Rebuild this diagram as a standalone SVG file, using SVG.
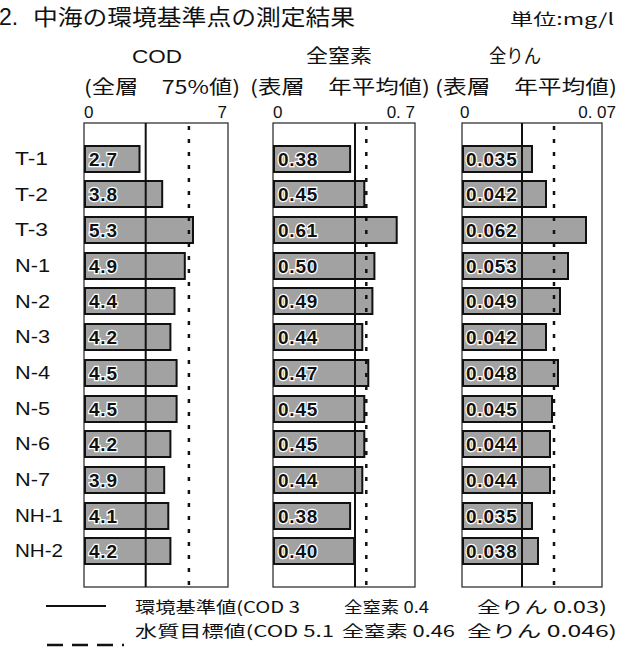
<svg xmlns="http://www.w3.org/2000/svg" width="632" height="648" viewBox="0 0 632 648">
<style>
.jp{font-family:"Noto Sans CJK JP","Liberation Sans",sans-serif;fill:#111}
.lat{font-family:"Liberation Sans","Noto Sans CJK JP",sans-serif;fill:#111}
.frame{fill:none;stroke:#333;stroke-width:1.3}
.bar{fill:#a2a2a2;stroke:#111;stroke-width:2}
.std{stroke:#111;stroke-width:2;fill:none}
.tgt{stroke:#111;stroke-width:2.5;stroke-dasharray:4 9;fill:none}
.val{font-family:"Liberation Sans",sans-serif;font-weight:bold;font-size:19px;letter-spacing:0.8px;fill:#111;stroke:#fff;stroke-width:2.5;paint-order:stroke}
.row{font-family:"Liberation Sans",sans-serif;font-size:18px;fill:#111}
.tick{font-family:"Liberation Sans",sans-serif;font-size:17px;fill:#111}
.leg{font-family:"Noto Sans CJK JP","Liberation Sans",sans-serif;font-size:16px;fill:#111}
</style>
<rect width="632" height="648" fill="#fff"/>
<g id="title">
<text class="lat" x="-1" y="25" font-size="23">2.</text>
<text class="jp" x="33" y="25" font-size="22" textLength="322" lengthAdjust="spacingAndGlyphs">中海の環境基準点の測定結果</text>
<text class="jp" x="510" y="25" font-size="16" textLength="104" lengthAdjust="spacingAndGlyphs">単位:mg/l</text>
</g>
<g id="headers">
<text class="lat" x="157" y="63" font-size="19" text-anchor="middle" textLength="50" lengthAdjust="spacingAndGlyphs">COD</text>
<text class="jp" x="339" y="63" font-size="19" text-anchor="middle" textLength="66" lengthAdjust="spacingAndGlyphs">全窒素</text>
<text class="jp" x="515" y="63" font-size="19" text-anchor="middle" textLength="52" lengthAdjust="spacingAndGlyphs">全りん</text>
<text class="jp" x="84" y="94" font-size="19" textLength="156" lengthAdjust="spacingAndGlyphs">(全層　75%値)</text>
<text class="jp" x="250" y="94" font-size="19" textLength="180" lengthAdjust="spacingAndGlyphs">(表層　年平均値)</text>
<text class="jp" x="435" y="94" font-size="19" textLength="182" lengthAdjust="spacingAndGlyphs">(表層　年平均値)</text>
<text class="tick" x="84" y="118">0</text>
<text class="tick" x="227" y="118" text-anchor="end">7</text>
<text class="tick" x="273" y="118">0</text>
<text class="tick" x="415" y="118" text-anchor="end">0. 7</text>
<text class="tick" x="460" y="118">0</text>
<text class="tick" x="616" y="118" text-anchor="end">0. 07</text>
</g>
<g id="rows">
<text class="row" x="15" y="165" textLength="33" lengthAdjust="spacingAndGlyphs">T-1</text>
<text class="row" x="15" y="201" textLength="33" lengthAdjust="spacingAndGlyphs">T-2</text>
<text class="row" x="15" y="236" textLength="33" lengthAdjust="spacingAndGlyphs">T-3</text>
<text class="row" x="15" y="272" textLength="35" lengthAdjust="spacingAndGlyphs">N-1</text>
<text class="row" x="15" y="308" textLength="35" lengthAdjust="spacingAndGlyphs">N-2</text>
<text class="row" x="15" y="343" textLength="35" lengthAdjust="spacingAndGlyphs">N-3</text>
<text class="row" x="15" y="379" textLength="35" lengthAdjust="spacingAndGlyphs">N-4</text>
<text class="row" x="15" y="415" textLength="35" lengthAdjust="spacingAndGlyphs">N-5</text>
<text class="row" x="15" y="450" textLength="35" lengthAdjust="spacingAndGlyphs">N-6</text>
<text class="row" x="15" y="486" textLength="35" lengthAdjust="spacingAndGlyphs">N-7</text>
<text class="row" x="15" y="522" textLength="48" lengthAdjust="spacingAndGlyphs">NH-1</text>
<text class="row" x="15" y="557" textLength="48" lengthAdjust="spacingAndGlyphs">NH-2</text>
</g>
<g id="panel-cod">
<rect class="frame" x="84" y="123" width="144" height="464"/>
<rect class="bar" x="85" y="146" width="54.5" height="26"/>
<rect class="bar" x="85" y="181" width="77.2" height="26"/>
<rect class="bar" x="85" y="217" width="108" height="26"/>
<rect class="bar" x="85" y="253" width="99.8" height="26"/>
<rect class="bar" x="85" y="288" width="89.5" height="26"/>
<rect class="bar" x="85" y="324" width="85.4" height="26"/>
<rect class="bar" x="85" y="360" width="91.6" height="26"/>
<rect class="bar" x="85" y="396" width="91.6" height="26"/>
<rect class="bar" x="85" y="431" width="85.4" height="26"/>
<rect class="bar" x="85" y="467" width="79.2" height="26"/>
<rect class="bar" x="85" y="503" width="83.3" height="26"/>
<rect class="bar" x="85" y="538" width="85.4" height="26"/>
<line class="std" x1="145.7" y1="123" x2="145.7" y2="587"/>
<line class="tgt" x1="188.9" y1="126" x2="188.9" y2="587"/>
<text class="val" x="89" y="166">2.7</text>
<text class="val" x="89" y="201">3.8</text>
<text class="val" x="89" y="237">5.3</text>
<text class="val" x="89" y="273">4.9</text>
<text class="val" x="89" y="308">4.4</text>
<text class="val" x="89" y="344">4.2</text>
<text class="val" x="89" y="380">4.5</text>
<text class="val" x="89" y="416">4.5</text>
<text class="val" x="89" y="451">4.2</text>
<text class="val" x="89" y="487">3.9</text>
<text class="val" x="89" y="523">4.1</text>
<text class="val" x="89" y="558">4.2</text>
</g>
<g id="panel-tn">
<rect class="frame" x="273" y="123" width="142" height="464"/>
<rect class="bar" x="274" y="146" width="76.1" height="26"/>
<rect class="bar" x="274" y="181" width="90.3" height="26"/>
<rect class="bar" x="274" y="217" width="122.7" height="26"/>
<rect class="bar" x="274" y="253" width="100.4" height="26"/>
<rect class="bar" x="274" y="288" width="98.4" height="26"/>
<rect class="bar" x="274" y="324" width="88.3" height="26"/>
<rect class="bar" x="274" y="360" width="94.3" height="26"/>
<rect class="bar" x="274" y="396" width="90.3" height="26"/>
<rect class="bar" x="274" y="431" width="90.3" height="26"/>
<rect class="bar" x="274" y="467" width="88.3" height="26"/>
<rect class="bar" x="274" y="503" width="76.1" height="26"/>
<rect class="bar" x="274" y="538" width="80.1" height="26"/>
<line class="std" x1="355" y1="123" x2="355" y2="587"/>
<line class="tgt" x1="366.3" y1="126" x2="366.3" y2="587"/>
<text class="val" x="278" y="166">0.38</text>
<text class="val" x="278" y="201">0.45</text>
<text class="val" x="278" y="237">0.61</text>
<text class="val" x="278" y="273">0.50</text>
<text class="val" x="278" y="308">0.49</text>
<text class="val" x="278" y="344">0.44</text>
<text class="val" x="278" y="380">0.47</text>
<text class="val" x="278" y="416">0.45</text>
<text class="val" x="278" y="451">0.45</text>
<text class="val" x="278" y="487">0.44</text>
<text class="val" x="278" y="523">0.38</text>
<text class="val" x="278" y="558">0.40</text>
</g>
<g id="panel-tp">
<rect class="frame" x="462" y="123" width="140" height="464"/>
<rect class="bar" x="463" y="146" width="69" height="26"/>
<rect class="bar" x="463" y="181" width="83" height="26"/>
<rect class="bar" x="463" y="217" width="123" height="26"/>
<rect class="bar" x="463" y="253" width="105" height="26"/>
<rect class="bar" x="463" y="288" width="97" height="26"/>
<rect class="bar" x="463" y="324" width="83" height="26"/>
<rect class="bar" x="463" y="360" width="95" height="26"/>
<rect class="bar" x="463" y="396" width="89" height="26"/>
<rect class="bar" x="463" y="431" width="87" height="26"/>
<rect class="bar" x="463" y="467" width="87" height="26"/>
<rect class="bar" x="463" y="503" width="69" height="26"/>
<rect class="bar" x="463" y="538" width="75" height="26"/>
<line class="std" x1="522" y1="123" x2="522" y2="587"/>
<line class="tgt" x1="554" y1="126" x2="554" y2="587"/>
<text class="val" x="466" y="166">0.035</text>
<text class="val" x="466" y="201">0.042</text>
<text class="val" x="466" y="237">0.062</text>
<text class="val" x="466" y="273">0.053</text>
<text class="val" x="466" y="308">0.049</text>
<text class="val" x="466" y="344">0.042</text>
<text class="val" x="466" y="380">0.048</text>
<text class="val" x="466" y="416">0.045</text>
<text class="val" x="466" y="451">0.044</text>
<text class="val" x="466" y="487">0.044</text>
<text class="val" x="466" y="523">0.035</text>
<text class="val" x="466" y="558">0.038</text>
</g>
<g id="legend">
<line x1="46" y1="606" x2="106" y2="606" stroke="#111" stroke-width="2"/>
<line x1="47" y1="645" x2="124" y2="645" stroke="#111" stroke-width="2.5" stroke-dasharray="16 9"/>
<text class="leg" x="135" y="613" textLength="165" lengthAdjust="spacingAndGlyphs">環境基準値(COD 3</text>
<text class="leg" x="344" y="613" textLength="85" lengthAdjust="spacingAndGlyphs">全窒素 0.4</text>
<text class="leg" x="477" y="613" textLength="130" lengthAdjust="spacingAndGlyphs">全りん 0.03)</text>
<text class="leg" x="135" y="637" textLength="199" lengthAdjust="spacingAndGlyphs">水質目標値(COD 5.1</text>
<text class="leg" x="342" y="637" textLength="113" lengthAdjust="spacingAndGlyphs">全窒素 0.46</text>
<text class="leg" x="467" y="637" textLength="150" lengthAdjust="spacingAndGlyphs">全りん 0.046)</text>
</g>
</svg>
